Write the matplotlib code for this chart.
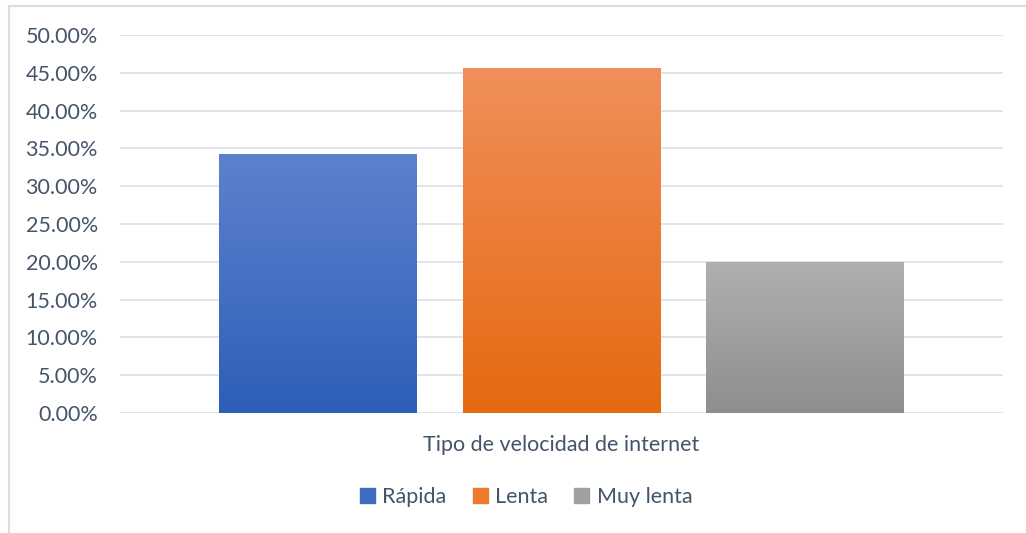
import numpy as np
import matplotlib.pyplot as plt
from matplotlib.colors import LinearSegmentedColormap
from matplotlib.patches import Rectangle

categorias = ["Rápida", "Lenta", "Muy lenta"]
valores = [0.343, 0.457, 0.200]
color_arriba = ["#5D82CC", "#F18F5B", "#B0B0B0"]
color_abajo = ["#2E5EB9", "#E5690F", "#8E8E8E"]
titulo_x = "Tipo de velocidad de internet"

plt.rcParams['font.family'] = ['Lato', 'DejaVu Sans']
texto = "#44546A"
fs = 15.5

fig = plt.figure(figsize=(10.26, 5.33), dpi=100)
ax = fig.add_axes([120/1026, 1-413/533, 883/1026, 378/533])

paso = 1.232
xs = [(i - 1) * paso for i in range(len(categorias))]
barras = ax.bar(xs, valores, width=1.0, color="none", zorder=3)

grad = np.linspace(0, 1, 256).reshape(-1, 1)
for b, c1, c2 in zip(barras, color_arriba, color_abajo):
    cmap = LinearSegmentedColormap.from_list("g", [c2, c1])
    x0, y0 = b.get_x(), b.get_y()
    w, h = b.get_width(), b.get_height()
    im = ax.imshow(grad, cmap=cmap, aspect="auto", origin="lower",
                   extent=[x0, x0 + w, y0, y0 + h], zorder=3)
    im.set_clip_path(b)

ax.set_xlim(-2.232, 2.232)
ax.set_ylim(0, 0.5)
ticks = np.arange(0, 0.501, 0.05)
ax.set_yticks(ticks)
ax.set_yticklabels([f"{v*100:.2f}%" for v in ticks])
ax.set_xticks([])
ax.grid(axis="y", color="#E1E4E9", linewidth=1.4, zorder=0)
for s in ax.spines.values():
    s.set_visible(False)
ax.axhline(0, color="#E1E4E9", linewidth=1.4, zorder=2)
ax.tick_params(axis="y", length=0, pad=16, labelsize=fs, labelcolor=texto)

fig.text(561/1026, 1-445/533, titulo_x, ha="center", va="center",
         fontsize=fs, color=texto)

handles = [Rectangle((0, 0), 1, 1, color=c) for c in ["#3D6AC2", "#EE7A2E", "#A0A0A0"]]
fig.legend(handles, categorias, loc="center", bbox_to_anchor=(526/1026, 1-497/533),
           ncol=3, frameon=False, fontsize=fs, labelcolor=texto,
           handlelength=0.7, handleheight=0.7, handletextpad=0.35, columnspacing=1.2)

fig.patches.append(Rectangle((9/1026, -0.1), 1.2, 1 - 6/533 + 0.1,
                             transform=fig.transFigure, fill=False,
                             edgecolor="#D9DDE3", linewidth=1.5))

fig.savefig("out.png", dpi=100)
